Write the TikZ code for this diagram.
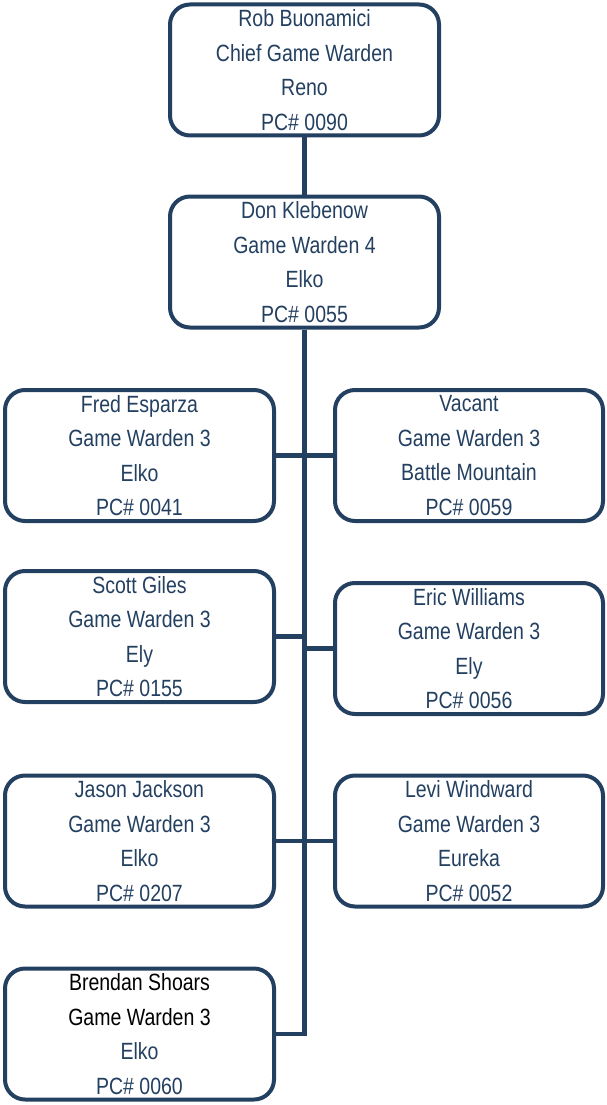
\documentclass[tikz,border=0pt]{standalone}
\usepackage{fontspec}
\setmainfont[FakeStretch=0.83]{Liberation Sans}
\definecolor{navy}{RGB}{36,64,97}
\tikzset{
	card/.style={draw=navy, line width=4pt, rounded corners=20pt, fill=white,
		minimum width=269pt, minimum height=131pt, inner sep=0pt, align=center,
		text=navy, font=\fontsize{23.5}{34.5}\selectfont},
	link/.style={draw=navy, line width=4.5pt}
}
\begin{document}
\begin{tikzpicture}[x=1pt,y=-1pt]
		\useasboundingbox (0,0) rectangle (607,1105);
		\node[card] (rb) at (304.5,70) {Rob Buonamici\\Chief Game Warden\\Reno\\PC\# 0090};
		\node[card] (dk) at (304.5,262) {Don Klebenow\\Game Warden 4\\Elko\\PC\# 0055};
		
		\node[card] (fe) at (139.5,455.5) {Fred Esparza\\Game Warden 3\\Elko\\PC\# 0041};
		\node[card, minimum width=268pt] (va) at (469,455.5) {Vacant\\Game Warden 3\\Battle Mountain\\PC\# 0059};
		\node[card] (sg) at (139.5,636.5) {Scott Giles\\Game Warden 3\\Ely\\PC\# 0155};
		\node[card, minimum width=268pt] (ew) at (469,648.5) {Eric Williams\\Game Warden 3\\Ely\\PC\# 0056};
		\node[card] (jj) at (139.5,841) {Jason Jackson\\Game Warden 3\\Elko\\PC\# 0207};
		\node[card, minimum width=268pt] (lw) at (469,841) {Levi Windward\\Game Warden 3\\Eureka\\PC\# 0052};
		\node[card] (bs) at (139.5,1034) {\textcolor{black}{Brendan Shoars}\\\textcolor{black}{Game Warden 3}\\Elko\\PC\# 0060};
		
		\draw[link] (rb.south) -- (dk.north);
		\draw[link] (dk.south) |- (bs.east);
		\draw[link] (fe.east) -- (va.west);
		\draw[link] (sg.east) -- (sg.east -| dk.south);
		\draw[link] (ew.west) -- (ew.west -| dk.south);
		\draw[link] (jj.east) -- (lw.west);
	\end{tikzpicture}
\end{document}
